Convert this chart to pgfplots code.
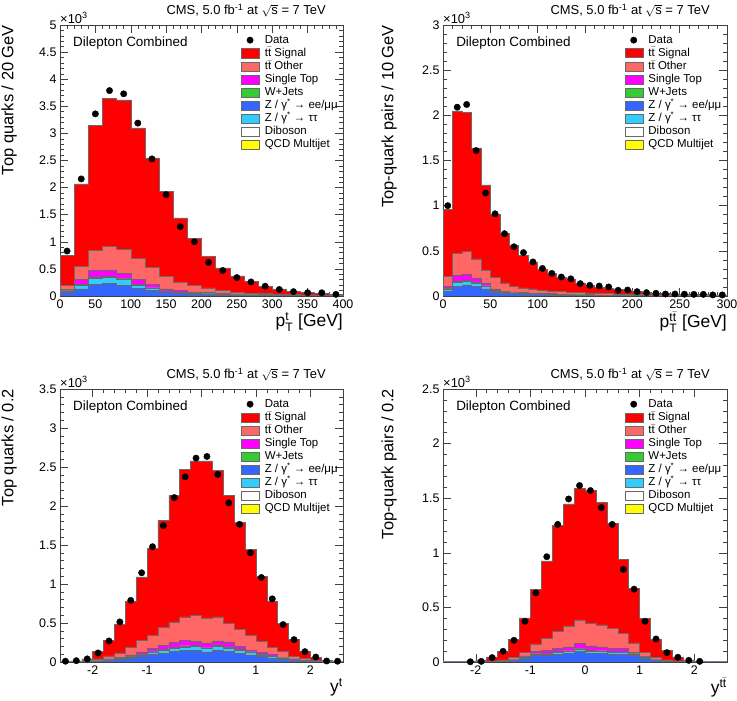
\documentclass[border=0pt]{standalone}
\usepackage{fontspec}
\setmainfont{Liberation Sans}
\usepackage{amsmath}
\usepackage{pgfplots}
\usepackage{pgfplotstable}
\pgfplotsset{compat=1.18}

\definecolor{cSig}{RGB}{255,0,0}
\definecolor{cOth}{RGB}{255,102,102}
\definecolor{cST}{RGB}{255,0,255}
\definecolor{cWJ}{RGB}{51,204,51}
\definecolor{cZll}{RGB}{51,102,255}
\definecolor{cZtt}{RGB}{51,204,255}
\definecolor{cQCD}{RGB}{255,255,0}
\definecolor{cEdge}{RGB}{105,105,105}

% ---------- panel 1: pT(top), 20 GeV bins (left edges) ----------
\pgfplotstableread{
x   blue cyan dib wj  st  oth  sig
0   60   85   95  98  120 200  750
20  130  200  215 218 300 550  2070
40  220  330  348 352 470 840  3150
60  230  340  358 362 480 920  3650
80  190  300  316 320 420 860  3620
100 140  200  212 215 310 700  3100
120 110  140  150 152 220 530  2550
140 60   85   92  94  130 360  1930
160 50   62   67  69  100 260  1440
180 40   50   54  56  75  190  1060
200 30   38   41  42  60  150  730
220 22   28   31  32  48  100  520
240 17   22   24  25  38  70   370
260 13   17   19  20  30  55   265
280 10   13   15  16  25  45   180
300 8    10   12  12  20  35   130
320 6    8    9   10  16  28   90
340 5    7    8   8   13  22   70
360 4    5    6   6   11  18   50
380 3    4    5   5   9   14   35
400 3    4    5   5   9   14   35
}\tA
\pgfplotstableread{
x y
10 830
30 2160
50 3360
70 3790
90 3730
110 3190
130 2530
150 1870
170 1280
190 1000
210 620
230 470
250 340
270 260
290 180
310 120
330 80
350 60
370 60
390 30
}\dA

% ---------- panel 2: pT(ttbar), 10 GeV bins ----------
\pgfplotstableread{
x   blue cyan dib wj  st  oth  sig
0   58   78   84  86  105 215  960
10  108  150  158 160 225 470  2050
20  122  162  170 172 240 490  2030
30  110  145  152 154 200 410  1640
40  79   105  111 113 145 290  1230
50  42   55   60  62  78  205  905
60  32   40   44  45  55  145  690
70  26   32   35  36  45  110  560
80  21   27   29  30  38  90   450
90  18   23   25  26  33  78   370
100 15   20   22  22  28  65   300
110 13   17   19  19  25  55   250
120 11   15   16  16  22  48   210
130 10   13   14  14  19  42   180
140 8    11   12  12  16  36   145
150 7    10   11  11  14  32   118
160 6    9    10  10  12  28   100
170 6    8    9   9   11  25   85
180 5    7    8   8   10  22   70
190 4    6    7   7   9   19   60
200 4    5    6   6   8   17   48
210 3    5    5   5   7   15   37
220 3    4    4   4   6   13   33
230 3    4    4   4   6   12   26
240 2    3    3   3   5   11   22
250 2    3    3   3   5   10   19
260 2    3    3   3   4   9    17
270 2    2    2   2   4   8    15
280 1    2    2   2   4   7    13
290 1    2    2   2   3   6    11
300 1    2    2   2   3   6    11
}\tB
\pgfplotstableread{
x y
5 1000
15 2090
25 2120
35 1610
45 1140
55 910
65 690
75 545
85 480
95 377
105 305
115 250
125 210
135 190
145 137
155 118
165 110
175 100
185 63
195 66
205 48
215 37
225 30
235 22
245 22
255 20
265 18
275 18
285 12
295 12
}\dB

% ---------- panel 3: y(top), 0.2 bins ----------
\pgfplotstableread{
x    blue cyan dib wj  st  oth  sig
-2.6 1    1    1   1   2   3    5
-2.4 2    3    3   3   4   8    13
-2.2 4    6    7   7   8   20   40
-2.0 10   14   16  17  20  40   137
-1.8 20   28   31  33  40  77   280
-1.6 33   45   50  52  60  116  490
-1.4 50   65   71  73  90  185  780
-1.2 70   90   98  100 130 280  1090
-1.0 95   120  130 132 170 340  1457
-0.8 115  150  160 162 215 440  1820
-0.6 135  175  186 188 250 515  2140
-0.4 145  195  206 208 280 580  2470
-0.2 150  200  211 213 266 597  2580
0.0  130  170  180 182 245 567  2580
0.2  155  205  216 218 270 580  2455
0.4  140  180  191 193 257 500  2140
0.6  115  150  160 162 200 416  1790
0.8  90   120  129 131 150 343  1448
1.0  70   90   98  100 125 266  1100
1.2  52   68   74  76  94  185  784
1.4  36   48   52  54  64  137  500
1.6  22   30   33  35  40  73   287
1.8  13   18   20  21  26  43   141
2.0  6    8    9   10  13  20   56
2.2  2    3    3   3   5   8    20
2.4  1    1    1   1   2   3    8
2.6  1    1    1   1   2   3    8
}\tC
\pgfplotstableread{
x y
-2.5 10
-2.3 17
-2.1 40
-1.9 116
-1.7 270
-1.5 514
-1.3 790
-1.1 1144
-0.9 1478
-0.7 1748
-0.5 2108
-0.3 2374
-0.1 2614
0.1 2635
0.3 2404
0.5 2040
0.7 1765
0.9 1400
1.1 1084
1.3 810
1.5 480
1.7 287
1.9 133
2.1 64
2.3 13
2.5 10
}\dC

% ---------- panel 4: y(ttbar), 0.2 bins ----------
\pgfplotstableread{
x    blue cyan dib wj  st  oth  sig
-2.6 0    0    0   0   1   1    3
-2.4 0    1    1   1   1   2    6
-2.2 1    1    1   1   2   3    10
-2.0 2    2    2   3   3   6    20
-1.8 3    4    5   6   6   10   46
-1.6 6    8    9   10  12  20   98
-1.4 13   18   20  21  25  45   205
-1.2 30   40   44  46  55  90   404
-1.0 58   70   75  77  100 165  664
-0.8 63   75   80  82  107 215  927
-0.6 70   88   94  96  128 280  1248
-0.4 80   95   101 103 138 330  1447
-0.2 95   115  121 123 168 385  1591
0.0  80   100  106 108 147 355  1570
0.2  78   95   101 103 138 340  1460
0.4  75   90   96  98  128 305  1270
0.6  70   85   90  92  122 260  940
0.8  58   70   75  77  90  175  673
1.0  30   40   44  46  50  90   398
1.2  13   18   20  21  25  45   205
1.4  6    8    9   10  12  20   107
1.6  3    4    5   6   6   10   46
1.8  2    2    2   3   3   6    20
2.0  1    1    1   1   2   3    10
2.2  0    1    1   1   1   2    6
2.4  0    0    0   0   1   1    3
2.6  0    0    0   0   1   1    3
}\tD
\pgfplotstableread{
x y
-2.1 2
-1.9 6
-1.7 40
-1.5 98
-1.3 199
-1.1 373
-0.9 633
-0.7 964
-0.5 1260
-0.3 1493
-0.1 1616
0.1 1570
0.3 1414
0.5 1260
0.7 848
0.9 667
1.1 373
1.3 211
1.5 86
1.7 43
1.9 15
2.1 6
}\dD

\pgfplotsset{
  cmsaxis/.style={
    scale only axis, anchor=south west,
    ymin=0, clip mode=individual,
    axis line style={black!75, line width=0.6bp},
    tick style={black!75, line width=0.5bp},
    major tick length=8bp, minor tick length=4bp,
    xtick pos=both, ytick pos=both, xticklabel pos=lower, yticklabel pos=left,
    minor x tick num=4, minor y tick num=4,
    tick label style={font=\fontsize{12.5}{14}\selectfont},
    /pgf/number format/assume math mode=true,
    every axis y label/.style={at={(axis description cs:-0.152,1)}, anchor=south east, rotate=90, inner sep=0pt, font=\fontsize{16.5}{18}\selectfont},
    every axis x label/.style={at={(axis description cs:1,0)}, anchor=north east, inner sep=0pt, yshift=-16bp, font=\fontsize{17.5}{19}\selectfont},
    legend style={draw=none, fill=none, font=\fontsize{11.5}{12}\selectfont,
      at={(axis description cs:0.64,0.969)}, anchor=north west,
      inner sep=0pt, row sep=0pt,
      nodes={inner sep=1bp, text height=8.5bp, text depth=2.6bp},
      /tikz/every odd column/.style={column sep=4bp}},
    legend cell align=left,
  },
  layer/.style={const plot mark left, draw=cEdge, line width=0.5bp, forget plot},
  box/.style={legend image code/.code={\draw[draw=cEdge, line width=0.5bp, fill=#1] (0bp,-4.5bp) rectangle (18bp,4.5bp);}},
  datapts/.style={only marks, mark=*, mark size=3.2bp, black, forget plot},
}

\newcommand{\cmslegend}{%
  \addlegendimage{only marks, mark=*, mark size=3.2bp, black}\addlegendentry{Data}
  \addlegendimage{box=cSig}\addlegendentry{t$\bar{\text{t}}$ Signal}
  \addlegendimage{box=cOth}\addlegendentry{t$\bar{\text{t}}$ Other}
  \addlegendimage{box=cST}\addlegendentry{Single Top}
  \addlegendimage{box=cWJ}\addlegendentry{W+Jets}
  \addlegendimage{box=cZll}\addlegendentry{Z / γ\textsuperscript{*} → ee/μμ}
  \addlegendimage{box=cZtt}\addlegendentry{Z / γ\textsuperscript{*} → ττ}
  \addlegendimage{box=white}\addlegendentry{Diboson}
  \addlegendimage{box=cQCD}\addlegendentry{QCD Multijet}
}
\newcommand{\stack}[1]{%
  \addplot[layer, fill=cSig] table[x=x,y=sig]{#1} \closedcycle;
  \addplot[layer, fill=cOth] table[x=x,y=oth]{#1} \closedcycle;
  \addplot[layer, fill=cST] table[x=x,y=st]{#1} \closedcycle;
  \addplot[layer, fill=cWJ] table[x=x,y=wj]{#1} \closedcycle;
  \addplot[layer, fill=white] table[x=x,y=dib]{#1} \closedcycle;
  \addplot[layer, fill=cZtt] table[x=x,y=cyan]{#1} \closedcycle;
  \addplot[layer, fill=cZll] table[x=x,y=blue]{#1} \closedcycle;
}
\newcommand{\decor}{%
  \node[anchor=base east, yshift=10bp, inner sep=0pt, font=\fontsize{13}{14}\selectfont]
    at (axis description cs:0.94,1) {CMS, 5.0 fb\textsuperscript{-1} at $\sqrt{\mbox{s}}$ = 7 TeV};
  \node[anchor=south west, yshift=1.5bp, inner sep=0pt, font=\fontsize{13}{14}\selectfont]
    at (axis description cs:0,1) {×10\textsuperscript{3}};
  \node[anchor=west, inner sep=0pt, font=\fontsize{13.5}{15}\selectfont]
    at (axis description cs:0.046,0.934) {Dilepton Combined};
}

\begin{document}
\begin{tikzpicture}
% Panel 1
\begin{axis}[cmsaxis, at={(60bp,405bp)}, width=283bp, height=271bp,
  xmin=0, xmax=400, ymax=5000,
  xtick={0,50,...,400},
  ytick={0,500,...,5000}, yticklabels={0,0.5,1,1.5,2,2.5,3,3.5,4,4.5,5},
  ylabel={Top quarks / 20 GeV},
  xlabel={p$_{\text{T}}^{\text{t}}$ [GeV]}]
  \stack{\tA}
  \addplot[datapts] table[x=x,y=y]{\dA};
  \cmslegend
  \decor
\end{axis}
% Panel 2
\begin{axis}[cmsaxis, at={(443bp,405bp)}, width=284bp, height=271bp,
  xmin=0, xmax=300, ymax=3000,
  xtick={0,50,...,300},
  ytick={0,500,...,3000}, yticklabels={0,0.5,1,1.5,2,2.5,3},
  every axis y label/.append style={at={(axis description cs:-0.162,1)}},
  ylabel={Top-quark pairs / 10 GeV},
  xlabel={p$_{\text{T}}^{\text{t}\bar{\text{t}}}$ [GeV]}]
  \stack{\tB}
  \addplot[datapts] table[x=x,y=y]{\dB};
  \cmslegend
  \decor
\end{axis}
% Panel 3
\begin{axis}[cmsaxis, at={(60bp,39bp)}, width=283bp, height=273bp,
  xmin=-2.6, xmax=2.6, ymax=3500,
  xtick={-2,-1,0,1,2},
  ytick={0,500,...,3500}, yticklabels={0,0.5,1,1.5,2,2.5,3,3.5},
  ylabel={Top quarks / 0.2},
  xlabel={y$^{\text{t}}$}]
  \stack{\tC}
  \addplot[datapts] table[x=x,y=y]{\dC};
  \cmslegend
  \decor
\end{axis}
% Panel 4
\begin{axis}[cmsaxis, at={(443bp,39bp)}, width=284bp, height=273bp,
  xmin=-2.6, xmax=2.6, ymax=2500,
  xtick={-2,-1,0,1,2},
  ytick={0,500,...,2500}, yticklabels={0,0.5,1,1.5,2,2.5},
  every axis y label/.append style={at={(axis description cs:-0.162,1)}},
  ylabel={Top-quark pairs / 0.2},
  xlabel={y$^{\text{t}\bar{\text{t}}}$}]
  \stack{\tD}
  \addplot[datapts] table[x=x,y=y]{\dD};
  \cmslegend
  \decor
\end{axis}
\pgfresetboundingbox
\path[use as bounding box] (0bp,0bp) rectangle (737bp,701bp);
\end{tikzpicture}
\end{document}
